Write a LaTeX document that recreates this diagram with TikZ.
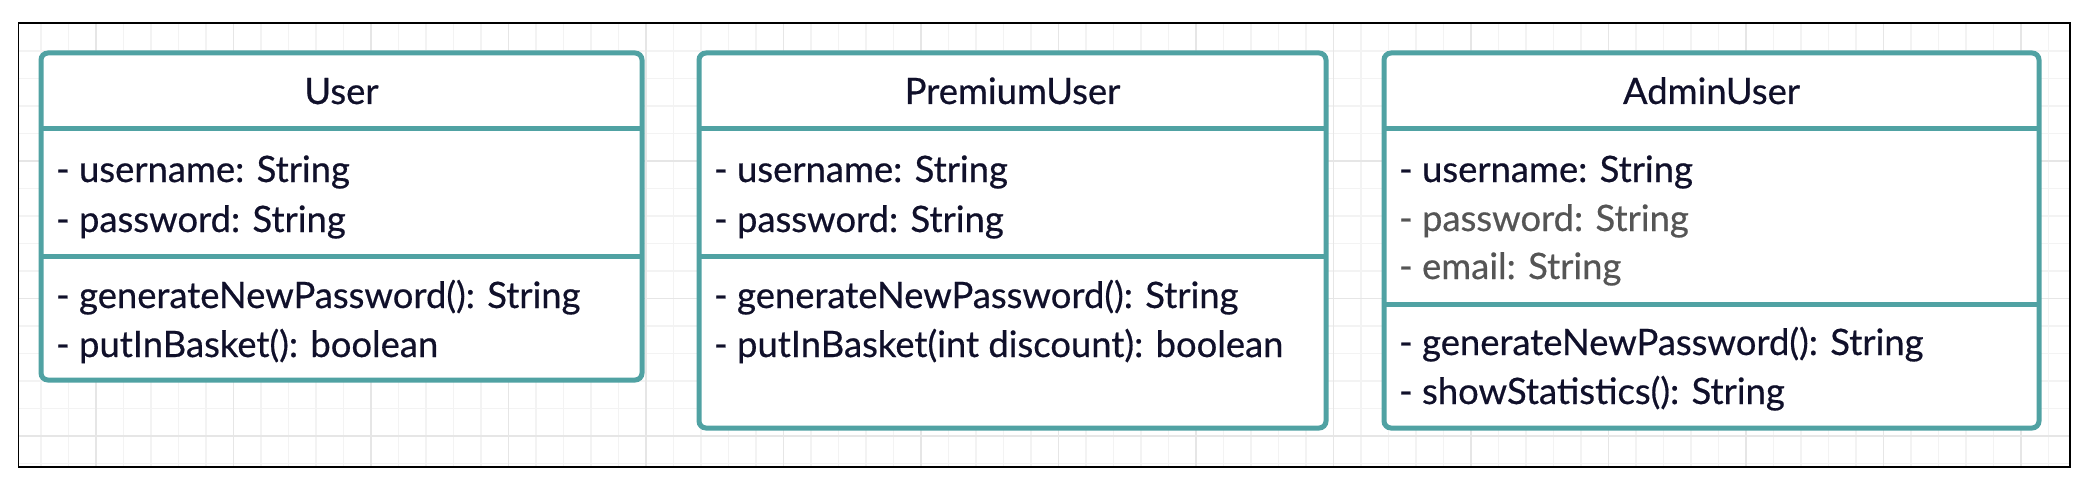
\documentclass[tikz,border=0pt]{standalone}
\usepackage{fontspec}
\setmainfont{Lato}[FakeBold=0.5]
\newfontfamily\umlfont{Lato}[FakeBold=0.5]
\definecolor{tealline}{HTML}{50A2A3}
\definecolor{ink}{HTML}{10102A}
\definecolor{greytxt}{HTML}{555555}
\definecolor{gridminor}{HTML}{F3F3F3}
\definecolor{gridmajor}{HTML}{E6E6E6}
\begin{document}
\begin{tikzpicture}[x=1pt,y=-1pt,
  boxframe/.style={draw=tealline, line width=5pt, fill=white, rounded corners=7pt},
  sepline/.style={draw=tealline, line width=5pt},
  txt/.style={anchor=base west, inner sep=0pt, font=\umlfont\fontsize{36.4}{40}\selectfont, text=ink},
  gtxt/.style={txt, text=greytxt},
  ttl/.style={anchor=base, inner sep=0pt, font=\umlfont\fontsize{36.4}{40}\selectfont, text=ink},
  minorgrid/.style={draw=gridminor, line width=1.5pt},
  majorgrid/.style={draw=gridmajor, line width=1.5pt}]
\fill[white] (0,0) rectangle (2100,492);
\useasboundingbox (0,0) rectangle (2100,492);
% grid
\foreach \i in {1,...,74} {\draw[minorgrid] ({13.5+27.5*\i},23) -- ({13.5+27.5*\i},467);}
\foreach \i in {1,...,16} {\draw[minorgrid] (18.5,{23.5+27.5*\i}) -- (2070,{23.5+27.5*\i});}
\foreach \i in {0,...,14} {\draw[majorgrid] ({96+137.5*\i},23) -- ({96+137.5*\i},467);}
\foreach \i in {1,...,3} {\draw[majorgrid] (18.5,{23.5+137.5*\i}) -- (2070,{23.5+137.5*\i});}
% outer frame
\draw[black, line width=1.5pt] (18.5,23) rectangle (2070,467);
% User
\draw[boxframe] (41,53) rectangle (642,380);
\draw[sepline] (41,129) -- (642,129);
\draw[sepline] (41,256) -- (642,256);
\node[ttl] (userT) at (341.5,104) {User};
\node[txt] (userA1) at (56,182) {- username: String};
\node[txt] (userA2) at (56,232) {- password: String};
\node[txt] (userM1) at (56,308) {- generateNewPassword(): String};
\node[txt] (userM2) at (56,357) {- putInBasket(): boolean};
% PremiumUser
\draw[boxframe] (699,53) rectangle (1326,428);
\draw[sepline] (699,129) -- (1326,129);
\draw[sepline] (699,256) -- (1326,256);
\node[ttl] (premT) at (1012.5,104) {PremiumUser};
\node[txt] (premA1) at (714,182) {- username: String};
\node[txt] (premA2) at (714,232) {- password: String};
\node[txt] (premM1) at (714,308) {- generateNewPassword(): String};
\node[txt] (premM2) at (714,357) {- putInBasket(int discount): boolean};
% AdminUser
\draw[boxframe] (1384,53) rectangle (2039,428);
\draw[sepline] (1384,129) -- (2039,129);
\draw[sepline] (1384,304) -- (2039,304);
\node[ttl] (admT) at (1711.5,104) {AdminUser};
\node[txt] (admA1) at (1399,182) {- username: String};
\node[gtxt] (admA2) at (1399,231) {- password: String};
\node[gtxt] (admA3) at (1399,279) {- email: String};
\node[txt] (admM1) at (1399,355) {- generateNewPassword(): String};
\node[txt] (admM2) at (1399,404) {- showStatistics(): String};
\end{tikzpicture}
\end{document}
